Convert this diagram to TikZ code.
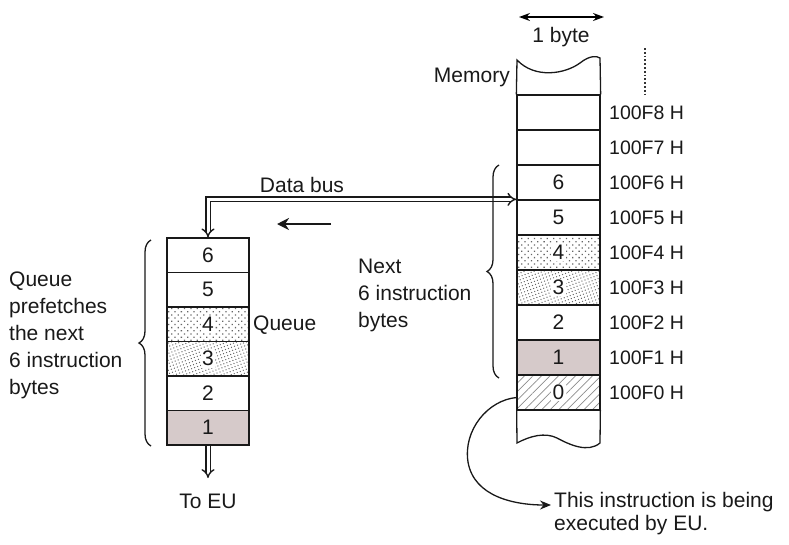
\documentclass[tikz,border=0pt]{standalone}
\usepackage{fontspec}
\setmainfont{Liberation Sans}
\usetikzlibrary{patterns,patterns.meta,arrows.meta,decorations.pathreplacing}
\definecolor{pinkgray}{HTML}{D6CACA}
\begin{document}
\begin{tikzpicture}[x=1pt,y=-1pt,
  every node/.style={font=\fontsize{21}{27}\selectfont, text=black!90},
  cell/.style={draw=black!90, line width=1.3pt, minimum width=83pt, minimum height=35pt, inner sep=0pt},
  qcell/.style={cell, minimum width=82pt, minimum height=34.5pt},
  addr/.style={anchor=west, inner sep=0pt, font=\fontsize{19.5}{23}\selectfont},
  digit/.style={fill=white, inner sep=1.5pt},
  bus/.style={draw=black!90, double, double distance=3pt, line width=1.4pt},
  brc/.style={draw=black!90, decorate, decoration={brace, amplitude=12pt}, line width=1.3pt},
  xdots/.style={pattern={Dots[angle=45, distance=4.5pt, radius=0.9pt]}, pattern color=black!60},
  sdots/.style={pattern={Dots[angle=20, distance=3.2pt, radius=0.7pt]}, pattern color=black!60},
  hatch/.style={pattern={Lines[angle=45, distance=6pt, line width=0.7pt]}, pattern color=black!45},
  shade1/.style={fill=pinkgray},
  outline/.style={draw=black!90, line width=1.3pt}
]
\useasboundingbox (0,0) rectangle (789,544);

% ---------- Memory column ----------
\node[cell] (mf8) at (558.5,112.5) {};
\node[cell] (mf7) at (558.5,147.5) {};
\node[cell] (m6) at (558.5,182.5) {6};
\node[cell] (m5) at (558.5,217.5) {5};
\node[cell, xdots] (m4) at (558.5,252.5) {};
\node[digit] (m4t) at (m4) {4};
\node[cell, sdots] (m3) at (558.5,287.5) {};
\node[digit] (m3t) at (m3) {3};
\node[cell] (m2) at (558.5,322.5) {2};
\node[cell, shade1] (m1) at (558.5,357.5) {1};
\node[cell, hatch] (m0) at (558.5,392.5) {};
\node[digit] (m0t) at (m0) {0};

\draw[outline] (mf8.north west) -- (517,60)
  .. controls (535,79) and (565,74) .. (580,63)
  .. controls (590,55) and (597,56) .. (600,58) -- (mf8.north east);
\draw[outline] (m0.south west) -- (517,443)
  .. controls (530,436) and (545,432) .. (557,438)
  .. controls (570,445) and (588,453) .. (600,443) -- (m0.south east);

% addresses
\node[addr] (af8) at (609,112.5) {100F8 H};
\node[addr] (af7) at (609,147.5) {100F7 H};
\node[addr] (af6) at (609,182.5) {100F6 H};
\node[addr] (af5) at (609,217.5) {100F5 H};
\node[addr] (af4) at (609,252.5) {100F4 H};
\node[addr] (af3) at (609,287.5) {100F3 H};
\node[addr] (af2) at (609,322.5) {100F2 H};
\node[addr] (af1) at (609,357.5) {100F1 H};
\node[addr] (af0) at (609,392.5) {100F0 H};

\coordinate (dtop) at (645,48);
\coordinate (dbot) at (645,95);
\draw[line width=1.8pt, dotted, black!80] (dtop) -- (dbot);

\node (mem) [anchor=east, inner sep=0pt] at (510,77) {Memory};

\coordinate (bl) at (519,17);
\coordinate (br) at (604,17);
\draw[line width=1.3pt, {Stealth[length=11pt,width=8pt]}-{Stealth[length=11pt,width=8pt]}] (bl) -- (br);
\node (byte) at (561,37) {1 byte};

% ---------- Queue ----------
\node[qcell] (q6) at (208,255.25) {6};
\node[qcell] (q5) at (208,289.75) {5};
\node[qcell, xdots] (q4) at (208,324.25) {};
\node[digit] (q4t) at (q4) {4};
\node[qcell, sdots] (q3) at (208,358.75) {};
\node[digit] (q3t) at (q3) {3};
\node[qcell] (q2) at (208,393.25) {2};
\node[qcell, shade1] (q1) at (208,427.75) {1};

\node (qlab) [anchor=west, inner sep=0pt] at (253,325) {Queue};

% Data bus
\draw[bus, {Implies}-{Implies}] (q6.north) |- (m5.north west);
\node (db) at (302,185) {Data bus};
\coordinate (la1) at (331,224);
\coordinate (la2) at (277,224);
\draw[line width=2.8pt, black!90, -{Stealth[length=12pt,width=12pt]}] (la1) -- (la2);

% To EU
\coordinate (toeu) at (208,478);
\draw[bus, -{Implies}] (q1.south) -- (toeu);
\node (eu) at (208,501) {To EU};

% Braces
\coordinate (mb1) at (499,378);
\coordinate (mb2) at (499,165);
\draw[brc] (mb1) -- (mb2);
\node (next) [anchor=north west, inner sep=0pt, align=left] at (358,259) {Next\\6 instruction\\bytes};

\coordinate (qb1) at (151,446);
\coordinate (qb2) at (151,240);
\draw[brc] (qb1) -- (qb2);
\node (qtext) [anchor=north west, inner sep=0pt, align=left] at (9,272) {Queue\\prefetches\\the next\\6 instruction\\bytes};

% Executed arrow
\coordinate (ex) at (551,505);
\draw[line width=1.3pt, black!90, -{Stealth[length=11pt,width=9pt]}] ([yshift=-5pt]m0.west)
  .. controls (488,400) and (463,430) .. (468,462)
  .. controls (474,497) and (515,505) .. (ex);
\node (exec) [anchor=north west, inner sep=0pt, align=left, font=\fontsize{21}{23}\selectfont] at (554,492) {This instruction is being\\executed by EU.};
\end{tikzpicture}
\end{document}
